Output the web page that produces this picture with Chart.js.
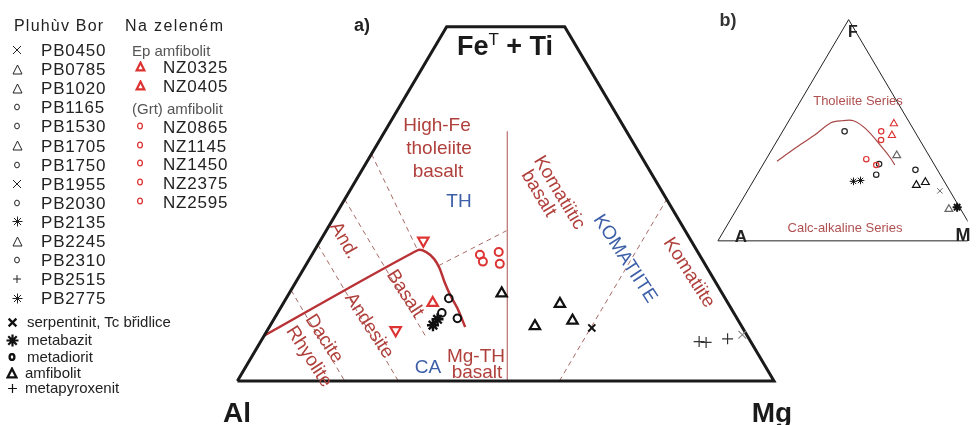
<!DOCTYPE html>
<html>
<head>
<meta charset="utf-8">
<script src="https://cdn.jsdelivr.net/npm/chart.js@4.4.0/dist/chart.umd.min.js"></script>
<style>
  body { margin: 0; background: #fff; font-family: "Liberation Sans", Arial, sans-serif; }
  #wrap { position: relative; width: 976px; height: 425px; overflow: hidden; }
  #box { position: absolute; left: 0; top: 0; width: 976px; height: 425px; }
  .t { position: absolute; white-space: nowrap; line-height: 1; transform-origin: center; }
  .lg { position: absolute; white-space: nowrap; line-height: 18px; height: 18px; color: #222; }
  .sy { position: absolute; line-height: 0; }
</style>
</head>
<body>
<div id="wrap">
  <div id="box"><canvas id="chart"></canvas></div>
</div>
<script>
// ---- legend entries
const pbSamples = ["PB0450", "PB0785", "PB1020", "PB1165", "PB1530", "PB1705", "PB1750",
  "PB1955", "PB2030", "PB2135", "PB2245", "PB2310", "PB2515", "PB2775"];
const pbSymbols = ["x", "tri", "tri", "circ", "circ", "tri", "circ", "x", "circ", "star",
  "tri", "circ", "plus", "star"];
const nzEp = ["NZ0325", "NZ0405"];
const nzGrt = ["NZ0865", "NZ1145", "NZ1450", "NZ2375", "NZ2595"];
const rockTypes = ["serpentinit, Tc břidlice", "metabazit", "metadiorit", "amfibolit", "metapyroxenit"];
const rockSymbols = ["x", "star", "circ", "tri", "plus"];

// ---- a) Jensen cation plot, points as [Al, FeT+Ti, Mg]
const jensenFrame = [[100, 0, 0], [22, 78, 0], [0, 78, 22], [0, 0, 100], [100, 0, 0]];
const caThBoundary = [[90, 10, 0], [52, 28.8, 19.2], [50.6, 28.4, 21], [49.9, 26.9, 23.2],
  [49.9, 24.8, 25.3], [50.5, 21.8, 27.7], [50.9, 18.6, 30.5], [51, 15.9, 33.1], [51.6, 11.9, 36.5]];
const thKomBoundary = [[49.7, 0, 50.3], [22.2, 55, 22.8]];
const al50 = [[50, 50, 0], [52, 28.8, 19.2]];
const al60 = [[60, 40, 0], [60, 9.5, 30.5]];
const al70 = [[70, 30, 0], [70, 0, 30]];
const al80 = [[80, 20, 0], [80, 0, 20]];
const hfeMgSplit = [[49.8, 25.4, 24.8], [33.3, 33.1, 33.6]];
const mg60 = [[40, 0, 60], [0, 40, 60]];

const jRedDown = [[49.9, 30.9, 19.2], [64.9, 11.2, 23.9]];
const jRedUp = [[55, 17.2, 27.8]];
const jRedCircle = [[40.9, 27.8, 31.3], [41.1, 26.3, 32.6], [37.1, 28.4, 34.5], [38.2, 25.8, 36]];
const jCircle = [[51.5, 18.2, 30.3], [54.4, 15, 30.6], [52.1, 13.8, 34.1]];
const jStar = [[57.4, 12.3, 30.3], [55.9, 13.6, 30.5]];
const jTriangle = [[41.1, 19.3, 39.6], [31.4, 17, 51.6], [30.9, 13.3, 55.8], [38.5, 12.1, 49.4]];
const jCross = [[28.1, 11.7, 60.2]];
const jPlus = [[9.6, 8.7, 81.7], [8.4, 8.5, 83.1], [4, 9.3, 86.7]];
const jGreyCross = [[0.8, 10.2, 89]];

// ---- b) AFM diagram, points as [A, F, M]
const afmFrame = [[100, 0, 0], [0, 100, 0], [0, 0, 100], [100, 0, 0]];
const afmDivide = [[59.4, 36, 4.6], [49.8, 41.7, 8.5], [39.3, 47.7, 13], [30.1, 53.4, 16.5],
  [25.5, 54.3, 20.2], [21, 54.3, 24.7], [18, 50.4, 31.6], [16.3, 43.4, 40.3],
  [15.3, 37.8, 46.9], [15.2, 34.3, 50.5]];
const aRedCircle = [[12.8, 49.5, 37.7], [14.8, 45.6, 39.6], [24.8, 36.9, 38.3], [22.3, 34.3, 43.4]];
const aRedUp = [[6.2, 53, 40.8], [9.6, 47.7, 42.7]];
const aCircle = [[26.8, 49.5, 23.7], [21, 34.7, 44.3], [24.5, 29.9, 45.6], [8.4, 32.1, 59.5]];
const aGreyTri = [[12.3, 38.6, 49.1], [4.5, 14.3, 81.2]];
const aTriangle = [[11.5, 25.2, 63.3], [7.4, 26.5, 66.1]];
const aStar = [[34.7, 26.9, 38.4], [31.8, 27.3, 40.9]];
const aGreyCross = [[3.8, 22.6, 73.6]];
const aBoldStar = [[0.9, 15.2, 83.9]];

// ternary -> cartesian (base 100, equilateral)
const SQ = Math.sqrt(3) / 2;
function toXY(p) {
  const s = p[0] + p[1] + p[2];
  const f = (p[1] / s) * 100, m = (p[2] / s) * 100;
  return { x: m + f / 2, y: f * SQ };
}

const RED = "#dd3333", BROWN = "#b0403c", DASH = "#a86a66", BLUE = "#3d5fa8";

function lineSet(pts, panel, style) {
  return Object.assign({
    data: pts.map(toXY), showLine: true, pointRadius: 0, fill: false, order: 5,
    xAxisID: panel === "b" ? "xb" : "x", yAxisID: panel === "b" ? "yb" : "y",
    borderWidth: 1, borderColor: DASH
  }, style);
}
function pointSet(pts, panel, style) {
  return Object.assign({
    data: pts.map(toXY), showLine: false, order: 1,
    xAxisID: panel === "b" ? "xb" : "x", yAxisID: panel === "b" ? "yb" : "y",
    backgroundColor: "rgba(0,0,0,0)", pointBorderWidth: 1
  }, style);
}

const dashed = { borderDash: [5, 4], borderColor: DASH, borderWidth: 1 };

new Chart(document.getElementById("chart"), {
  type: "scatter",
  data: {
    datasets: [
      lineSet(jensenFrame, "a", { borderColor: "#1a1a1a", borderWidth: 3, borderJoinStyle: "miter" }),
      lineSet(thKomBoundary, "a", { borderColor: "#b87070", borderWidth: 1.2 }),
      lineSet(caThBoundary, "a", { borderColor: "#b83236", borderWidth: 2.5, tension: 0.25 }),
      lineSet(al50, "a", dashed),
      lineSet(al60, "a", dashed),
      lineSet(al70, "a", dashed),
      lineSet(al80, "a", dashed),
      lineSet(hfeMgSplit, "a", dashed),
      lineSet(mg60, "a", dashed),

      pointSet(jRedDown, "a", { pointStyle: "triangle", rotation: 180, pointRadius: 6, borderColor: RED, pointBorderWidth: 2.2 }),
      pointSet(jRedUp, "a", { pointStyle: "triangle", pointRadius: 6, borderColor: RED, pointBorderWidth: 2.2 }),
      pointSet(jRedCircle, "a", { pointStyle: "circle", pointRadius: 4, borderColor: RED, pointBorderWidth: 2 }),
      pointSet(jCircle, "a", { pointStyle: "circle", pointRadius: 3.8, borderColor: "#111", pointBorderWidth: 2 }),
      pointSet(jStar, "a", { pointStyle: "star", pointRadius: 6, borderColor: "#111", pointBorderWidth: 2.4 }),
      pointSet(jTriangle, "a", { pointStyle: "triangle", pointRadius: 6, borderColor: "#111", pointBorderWidth: 2.2 }),
      pointSet(jCross, "a", { pointStyle: "crossRot", pointRadius: 5, borderColor: "#111", pointBorderWidth: 2 }),
      pointSet(jPlus, "a", { pointStyle: "cross", pointRadius: 5.5, borderColor: "#333", pointBorderWidth: 1.2 }),
      pointSet(jGreyCross, "a", { pointStyle: "crossRot", pointRadius: 5.5, borderColor: "#888", pointBorderWidth: 1.2 }),

      lineSet(afmFrame, "b", { borderColor: "#222", borderWidth: 1 }),
      lineSet(afmDivide, "b", { borderColor: "#a84848", borderWidth: 1.2, tension: 0.3 }),
      pointSet(aRedCircle, "b", { pointStyle: "circle", pointRadius: 2.7, borderColor: RED, pointBorderWidth: 1.2 }),
      pointSet(aRedUp, "b", { pointStyle: "triangle", pointRadius: 4.2, borderColor: RED, pointBorderWidth: 1.1 }),
      pointSet(aCircle, "b", { pointStyle: "circle", pointRadius: 2.7, borderColor: "#222", pointBorderWidth: 1.2 }),
      pointSet(aGreyTri, "b", { pointStyle: "triangle", pointRadius: 4.5, borderColor: "#666", pointBorderWidth: 1.2 }),
      pointSet(aTriangle, "b", { pointStyle: "triangle", pointRadius: 4.5, borderColor: "#111", pointBorderWidth: 1.2 }),
      pointSet(aStar, "b", { pointStyle: "star", pointRadius: 3.8, borderColor: "#111", pointBorderWidth: 1 }),
      pointSet(aGreyCross, "b", { pointStyle: "crossRot", pointRadius: 3.8, borderColor: "#666", pointBorderWidth: 1 }),
      pointSet(aBoldStar, "b", { pointStyle: "star", pointRadius: 4.5, borderColor: "#111", pointBorderWidth: 2 })
    ]
  },
  options: {
    responsive: true,
    maintainAspectRatio: false,
    animation: false,
    layout: { padding: 0 },
    plugins: { legend: { display: false }, tooltip: { enabled: false } },
    scales: {
      x: { type: "linear", axis: "x", min: -42.67, max: 136.08, display: false },
      y: { type: "linear", axis: "y", min: -6.78, max: 71.06, display: false },
      xb: { type: "linear", axis: "x", min: -271.4, max: 95.5, display: false },
      yb: { type: "linear", axis: "y", min: -68.8, max: 91.0, display: false }
    }
  }
});

// ---- text labels
const wrap = document.getElementById("wrap");
function addText(html, cx, cy, font, color, rot) {
  const d = document.createElement("div");
  d.className = "t";
  d.innerHTML = html;
  d.style.left = cx + "px";
  d.style.top = cy + "px";
  d.style.font = font + ' "Liberation Sans", Arial, sans-serif';
  d.style.lineHeight = "1";
  d.style.color = color;
  d.style.transform = "translate(-50%,-50%) rotate(" + (rot || 0) + "deg)";
  wrap.appendChild(d);
  return d;
}

addText("a)", 362, 25, "bold 18px", "#222");
addText('Fe<span style="font-size:17px;font-weight:normal;position:relative;top:-10px">T</span> + Ti', 505, 46, "bold 27px", "#1a1a1a");
addText("High-Fe", 437, 124, "19px", BROWN);
addText("tholeiite", 439, 147, "19px", BROWN);
addText("basalt", 438, 170, "19px", BROWN);
addText("TH", 459, 200, "19px", BLUE);
const kb = addText('Komatiitic<br><span style="padding-left:6px">basalt</span>', 552, 197, "19px", BROWN, 59);
kb.style.textAlign = "left"; kb.style.lineHeight = "0.95";
addText("KOMATIITE", 626, 258, "19px", BLUE, 57);
addText("Komatiite", 690, 272, "19px", BROWN, 57);
addText("And.", 345, 240, "19px", BROWN, 60);
addText("Basalt", 406, 293, "19px", BROWN, 57);
addText("Andesite", 370, 325, "19px", BROWN, 57);
addText("Dacite", 325, 338, "19px", BROWN, 57);
addText("Rhyolite", 310, 356, "19px", BROWN, 57);
addText("CA", 428, 366, "19px", BLUE);
addText("Mg-TH", 476, 355, "19px", BROWN);
addText("basalt", 477, 371, "19px", BROWN);
addText("Al", 237, 413, "bold 28px", "#1a1a1a");
addText("Mg", 772, 413, "bold 28px", "#1a1a1a");

addText("b)", 728, 20, "bold 18px", "#333");
addText("F", 853, 32, "bold 16px", "#222");
addText("A", 741, 236, "bold 17px", "#222");
addText("M", 963, 235, "bold 18px", "#222");
addText("Tholeiite Series", 858, 100, "13px", "#b05050");
addText("Calc-alkaline Series", 845, 227, "13px", "#b05050");

// ---- legend
function sym(kind, color, w, s) {
  const h = s / 2, e = w / 2 + 0.5;
  let body = "";
  if (kind === "x") body = `<path d="M${e} ${e}L${s - e} ${s - e}M${s - e} ${e}L${e} ${s - e}"/>`;
  if (kind === "plus") body = `<path d="M${h} ${e}V${s - e}M${e} ${h}H${s - e}"/>`;
  if (kind === "tri") body = `<path d="M${h} ${e}L${s - e} ${s - e}H${e}Z"/>`;
  if (kind === "circ") body = `<ellipse cx="${h}" cy="${h}" rx="${s * 0.3}" ry="${s * 0.36}"/>`;
  if (kind === "star") {
    const r = h - 0.5, q = r * 0.707;
    body = `<path d="M${h} ${h - r}V${h + r}M${h - r} ${h}H${h + r}M${h - q} ${h - q}L${h + q} ${h + q}M${h + q} ${h - q}L${h - q} ${h + q}"/>`;
  }
  return `<svg width="${s}" height="${s}" viewBox="0 0 ${s} ${s}" fill="none" stroke="${color}" stroke-width="${w}" stroke-linejoin="miter">${body}</svg>`;
}
function addSym(kind, color, w, s, cx, cy) {
  const d = document.createElement("div");
  d.className = "sy";
  d.innerHTML = sym(kind, color, w, s);
  d.style.left = (cx - s / 2) + "px";
  d.style.top = (cy - s / 2) + "px";
  wrap.appendChild(d);
}
function addLegendText(text, x, cy, font, color, spacing) {
  const d = document.createElement("div");
  d.className = "lg";
  d.textContent = text;
  d.style.left = x + "px";
  d.style.top = (cy - 9) + "px";
  d.style.font = font + ' "Liberation Sans", Arial, sans-serif';
  d.style.lineHeight = "18px";
  d.style.letterSpacing = (spacing || 0) + "px";
  if (color) d.style.color = color;
  wrap.appendChild(d);
}

addLegendText("Pluhùv Bor", 14, 26, "16px", "#222", 1.2);
addLegendText("Na zeleném", 125, 26, "16px", "#222", 1.4);

pbSamples.forEach((name, i) => {
  const cy = 51 + i * 19.1;
  const k = pbSymbols[i];
  const size = k === "circ" ? 8 : k === "tri" ? 11 : k === "star" ? 11 : 10;
  addSym(k, "#222", 1, size, 17, cy - 1);
  addLegendText(name, 41, cy, "17px", "#222", 0.8);
});

addLegendText("Ep amfibolit", 132, 51, "15px", "#555", 0);
nzEp.forEach((name, i) => {
  const cy = 68 + i * 19;
  addSym("tri", RED, 2.2, 11, 140, cy - 2);
  addLegendText(name, 163, cy, "17px", "#222", 0.8);
});
addLegendText("(Grt) amfibolit", 132, 109, "15px", "#555", 0);
nzGrt.forEach((name, i) => {
  const cy = 128 + i * 18.7;
  addSym("circ", RED, 1.3, 8, 140, cy - 2);
  addLegendText(name, 163, cy, "17px", "#222", 0.8);
});

const rockY = [322, 340, 357, 373, 388];
rockTypes.forEach((name, i) => {
  const k = rockSymbols[i];
  const bold = k !== "plus";
  const size = k === "circ" ? 8 : k === "tri" ? 12 : k === "star" ? 13 : 11;
  addSym(k, "#111", bold ? (k === "star" ? 2.2 : 2.3) : 1.2, size, 12, rockY[i]);
  addLegendText(name, k === "tri" || k === "plus" ? 25 : 27, rockY[i], "15px", "#222", 0);
});
</script>
</body>
</html>
